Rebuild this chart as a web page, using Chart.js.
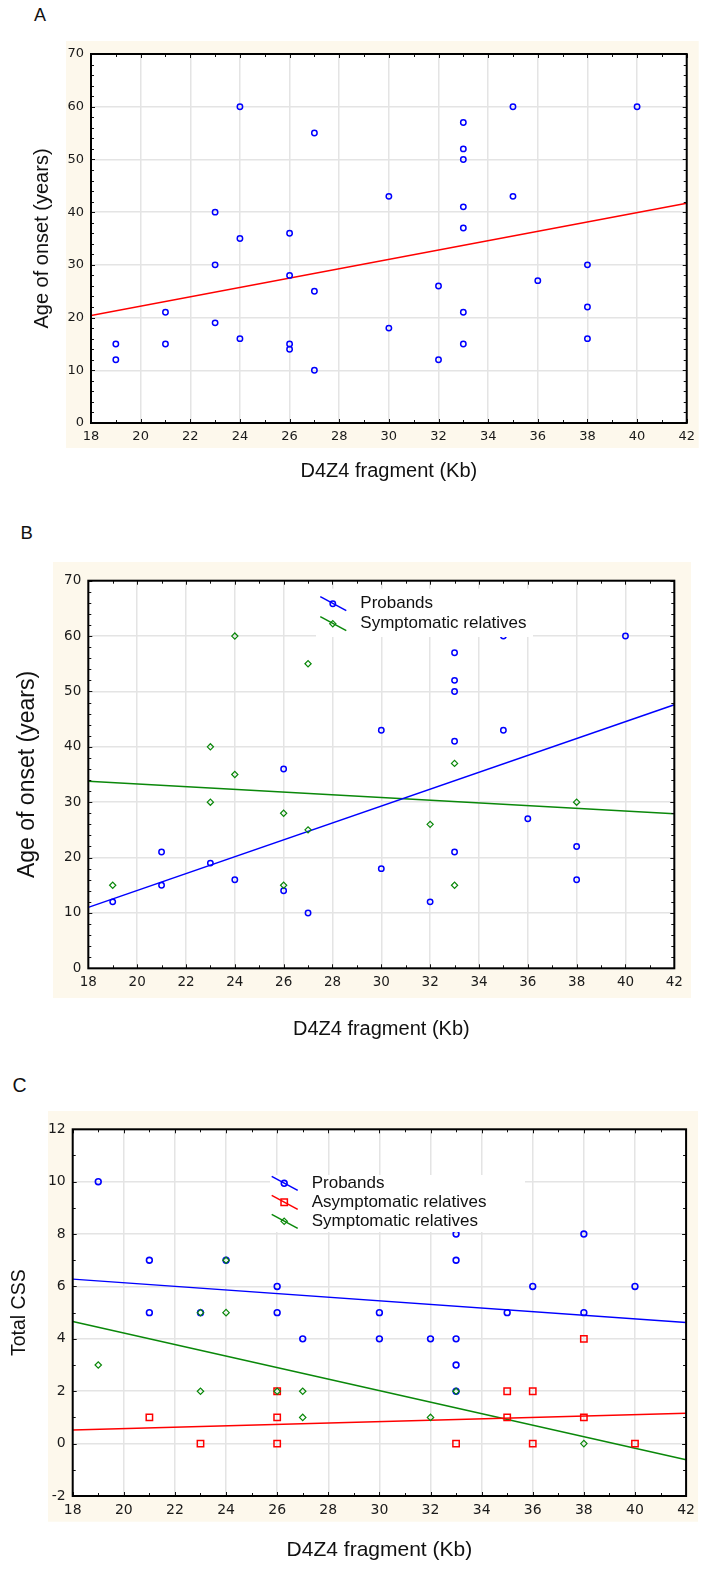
<!DOCTYPE html>
<html lang="en">
<head>
<meta charset="UTF-8">
<title>D4Z4 fragment size vs. age of onset and CSS</title>
<script src="https://cdn.jsdelivr.net/npm/chart.js"></script>
<style>
  body { margin: 0; background: #fff; }
  #page {
    position: relative;
    width: 701px;
    height: 1595px;
    overflow: hidden;
    font-family: 'Liberation Sans', Arial, sans-serif;
  }
  .panel { position: absolute; left: 0; width: 701px; }
  .tag { position: absolute; line-height: 1; color: #111; }
</style>
</head>
<body>
<div id="page">
  <div class="tag" style="left:34px; top:5.5px; font-size:18px;">A</div>
  <div class="panel" style="top:0; height:500px;"><canvas id="chartA"></canvas></div>

  <div class="tag" style="left:20.5px; top:523.5px; font-size:18.5px;">B</div>
  <div class="panel" style="top:500px; height:550px;"><canvas id="chartB"></canvas></div>

  <div class="tag" style="left:12.5px; top:1075.5px; font-size:19.5px;">C</div>
  <div class="panel" style="top:1050px; height:545px;"><canvas id="chartC"></canvas></div>
</div>

<script>
// ---- data ----
// A: all patients
const aFragment = [19, 19, 21, 21, 23, 23, 23, 24, 24, 24, 26, 26, 26, 26, 27, 27, 27,
                   30, 30, 32, 32, 33, 33, 33, 33, 33, 33, 33, 35, 35, 36, 38, 38, 38, 40];
const aOnset    = [15, 12, 21, 15, 40, 30, 19, 60, 35, 16, 36, 28, 15, 14, 55, 25, 10,
                   43, 18, 26, 12, 57, 52, 50, 41, 37, 21, 15, 60, 43, 27, 30, 22, 16, 60];

// B: probands and symptomatic relatives
const bProbandFragment = [19, 21, 21, 23, 24, 26, 26, 27, 30, 30, 32, 33, 33, 33, 33, 33, 35, 35, 36, 38, 38, 40];
const bProbandOnset    = [12, 21, 15, 19, 16, 36, 14, 10, 43, 18, 12, 57, 52, 50, 41, 21, 60, 43, 27, 22, 16, 60];
const bSymFragment = [19, 23, 23, 24, 24, 26, 26, 27, 27, 32, 33, 33, 38];
const bSymOnset    = [15, 40, 30, 60, 35, 28, 15, 55, 25, 26, 37, 15, 30];

// C: total CSS per group
const cProbandFragment = [19, 21, 21, 23, 24, 26, 26, 27, 30, 30, 32, 33, 33, 33, 33, 33, 35, 36, 38, 38, 40];
const cProbandCss      = [10, 7, 5, 5, 7, 6, 5, 4, 5, 4, 4, 8, 7, 4, 3, 2, 5, 6, 8, 5, 6];
const cAsymFragment = [21, 23, 26, 26, 26, 33, 35, 35, 36, 36, 38, 38, 40];
const cAsymCss      = [1, 0, 2, 1, 0, 0, 2, 1, 2, 0, 4, 1, 0];
const cSymFragment = [19, 23, 23, 24, 24, 26, 27, 27, 32, 33, 38];
const cSymCss      = [3, 5, 2, 7, 5, 2, 2, 1, 1, 2, 0];

// regression lines, value at each end of the x range
const fitX = [18, 42];
const aFit = [20.4, 41.7];
const bProbandFit = [11.0, 47.6];
const bSymFit = [33.8, 27.9];
const cProbandFit = [6.28, 4.62];
const cAsymFit = [0.52, 1.16];
const cSymFit = [4.66, -0.62];

const BLUE = '#0000ff';
const RED = '#ff0000';
const GREEN = '#0a880a';
const GRID = '#e4e4e4';
const CREAM = '#fdf8ec';

function pts(xs, ys) {
  return xs.map((x, i) => ({ x: x, y: ys[i] }));
}

function scatterSet(label, xs, ys, color, style, radius, width, order) {
  return {
    label: label,
    data: pts(xs, ys),
    pointStyle: style,
    pointRadius: radius,
    pointBorderWidth: width,
    borderColor: color,
    pointBorderColor: color,
    pointBackgroundColor: 'rgba(0,0,0,0)',
    order: order
  };
}

function fitSet(ys, color) {
  return {
    data: pts(fitX, ys),
    showLine: true,
    borderColor: color,
    borderWidth: 1.5,
    pointRadius: 0,
    order: 10
  };
}

// draws one legend marker by hand
function marker(ctx, style, x, y, r, color, width) {
  ctx.save();
  ctx.strokeStyle = color;
  ctx.lineWidth = width;
  ctx.beginPath();
  if (style === 'circle') {
    ctx.arc(x, y, r, 0, Math.PI * 2);
  } else if (style === 'rect') {
    const s = r * Math.SQRT1_2;
    ctx.rect(x - s, y - s, s * 2, s * 2);
  } else {
    ctx.moveTo(x, y - r);
    ctx.lineTo(x + r, y);
    ctx.lineTo(x, y + r);
    ctx.lineTo(x - r, y);
    ctx.closePath();
  }
  ctx.stroke();
  ctx.restore();
}

// cream surround, frame, inward ticks and the line/marker legend
const panelDecor = {
  id: 'panelDecor',
  beforeDraw(chart, args, opts) {
    const { ctx, chartArea: a } = chart;
    const p = opts.pad;
    ctx.save();
    ctx.fillStyle = CREAM;
    ctx.fillRect(a.left - p[0], a.top - p[1], a.width + p[0] + p[2], a.height + p[1] + p[3]);
    ctx.fillStyle = '#fff';
    ctx.fillRect(a.left, a.top, a.width, a.height);
    ctx.restore();
  },
  afterDatasetsDraw(chart, args, opts) {
    const { ctx, chartArea: a, scales } = chart;
    ctx.save();

    if (opts.legend) {
      const lg = opts.legend;
      const b = lg.box;
      ctx.fillStyle = '#fff';
      ctx.fillRect(a.left + b[0], a.top + b[1], b[2] - b[0], b[3] - b[1]);
      ctx.font = '17px "Liberation Sans", Arial, sans-serif';
      ctx.textBaseline = 'middle';
      lg.rows.forEach(row => {
        const ds = chart.data.datasets[row.ds];
        const x0 = a.left + lg.x0;
        const y = a.top + row.y;
        ctx.strokeStyle = ds.borderColor;
        ctx.lineWidth = 1.5;
        ctx.beginPath();
        ctx.moveTo(x0, y - 7);
        ctx.lineTo(x0 + 26, y + 7);
        ctx.stroke();
        marker(ctx, ds.pointStyle, x0 + 12.5, y, ds.pointRadius, ds.borderColor, ds.pointBorderWidth);
        ctx.fillStyle = '#111';
        ctx.fillText(ds.label, x0 + 40, y);
      });
    }

    ctx.strokeStyle = '#111';
    ctx.lineWidth = 1;
    const x = scales.x, y = scales.y;
    for (let v = x.min; v <= x.max; v += opts.minorX) {
      const px = Math.round(x.getPixelForValue(v)) + 0.5;
      const len = v % opts.majorX === 0 ? 4 : 3;
      ctx.beginPath();
      ctx.moveTo(px, a.bottom); ctx.lineTo(px, a.bottom - len);
      ctx.moveTo(px, a.top); ctx.lineTo(px, a.top + len);
      ctx.stroke();
    }
    for (let v = y.min; v <= y.max; v += opts.minorY) {
      const py = Math.round(y.getPixelForValue(v)) + 0.5;
      const len = v % opts.majorY === 0 ? 4 : 3;
      ctx.beginPath();
      ctx.moveTo(a.left, py); ctx.lineTo(a.left + len, py);
      ctx.moveTo(a.right, py); ctx.lineTo(a.right - len, py);
      ctx.stroke();
    }

    ctx.strokeStyle = '#000';
    ctx.lineWidth = 2;
    ctx.strokeRect(a.left, a.top, a.width, a.height);
    ctx.restore();
  }
};

function makeChart(id, cfg) {
  const tickFont = { family: '"DejaVu Sans", Verdana, sans-serif', size: cfg.tickSize };
  const titleFont = (size) => ({ family: '"Liberation Sans", Arial, sans-serif', size: size });
  return new Chart(document.getElementById(id), {
    type: 'scatter',
    data: { datasets: cfg.datasets },
    plugins: [panelDecor],
    options: {
      responsive: true,
      maintainAspectRatio: false,
      animation: false,
      layout: { padding: cfg.padding },
      plugins: {
        legend: { display: false },
        tooltip: { enabled: false },
        panelDecor: cfg.decor
      },
      scales: {
        x: {
          type: 'linear',
          min: 18,
          max: 42,
          ticks: { stepSize: 2, color: '#1a1a1a', font: tickFont, padding: cfg.xTickPad },
          grid: { color: GRID, lineWidth: 1.5, drawTicks: false },
          border: { display: false },
          title: { display: true, text: 'D4Z4 fragment (Kb)', color: '#111',
                   font: titleFont(cfg.xTitleSize), padding: 0 },
          afterFit(scale) { scale.height = cfg.xHeight; }
        },
        y: {
          type: 'linear',
          min: cfg.yMin,
          max: cfg.yMax,
          ticks: { stepSize: cfg.yStep, color: '#1a1a1a', font: tickFont, padding: 7 },
          grid: { color: GRID, lineWidth: 1.5, drawTicks: false },
          border: { display: false },
          title: { display: true, text: cfg.yTitle, color: '#111',
                   font: titleFont(cfg.yTitleSize), padding: 0 },
          afterFit(scale) { scale.width = cfg.yWidth; }
        }
      }
    }
  });
}

// A
makeChart('chartA', {
  datasets: [
    scatterSet('Patients', aFragment, aOnset, BLUE, 'circle', 2.7, 1.5, 1),
    fitSet(aFit, RED)
  ],
  padding: { left: 30, top: 54, right: 13, bottom: 17 },
  yWidth: 61, xHeight: 60, xTickPad: 6, tickSize: 13,
  xTitleSize: 20, yTitleSize: 20,
  yMin: 0, yMax: 70, yStep: 10, yTitle: 'Age of onset (years)',
  decor: { pad: [25, 13, 12, 25], minorX: 1, majorX: 2, minorY: 2, majorY: 10 }
});

// B
makeChart('chartB', {
  datasets: [
    scatterSet('Probands', bProbandFragment, bProbandOnset, BLUE, 'circle', 2.7, 1.5, 2),
    scatterSet('Symptomatic relatives', bSymFragment, bSymOnset, GREEN, 'rectRot', 3.1, 1.2, 1),
    fitSet(bProbandFit, BLUE),
    fitSet(bSymFit, GREEN)
  ],
  padding: { left: 13.7, top: 80.7, right: 26.7, bottom: 8.4 },
  yWidth: 74.6, xHeight: 73.3, xTickPad: 6, tickSize: 13.5,
  xTitleSize: 20, yTitleSize: 23,
  yMin: 0, yMax: 70, yStep: 10, yTitle: 'Age of onset (years)',
  decor: {
    pad: [35.3, 18.7, 16.7, 29.7], minorX: 1, majorX: 2, minorY: 2, majorY: 10,
    legend: { x0: 232, box: [227.7, 8, 444.7, 56.3], rows: [{ y: 23, ds: 0 }, { y: 43, ds: 1 }] }
  }
});

// C
makeChart('chartC', {
  datasets: [
    scatterSet('Probands', cProbandFragment, cProbandCss, BLUE, 'circle', 2.9, 1.6, 3),
    scatterSet('Asymptomatic relatives', cAsymFragment, cAsymCss, RED, 'rect', 4.5, 1.5, 2),
    scatterSet('Symptomatic relatives', cSymFragment, cSymCss, GREEN, 'rectRot', 3.2, 1.2, 1),
    fitSet(cProbandFit, BLUE),
    fitSet(cAsymFit, RED),
    fitSet(cSymFit, GREEN)
  ],
  padding: { left: 8.3, top: 79.3, right: 12, bottom: 32.4 },
  yWidth: 64.4, xHeight: 66.6, xTickPad: 6, tickSize: 14,
  xTitleSize: 21, yTitleSize: 19.5,
  yMin: -2, yMax: 12, yStep: 2, yTitle: 'Total CSS',
  decor: {
    pad: [24.7, 18.3, 12, 25.7], minorX: 1, majorX: 2, minorY: 1, majorY: 2,
    legend: { x0: 199, box: [197.3, 45.7, 452.3, 102.7],
              rows: [{ y: 54, ds: 0 }, { y: 73, ds: 1 }, { y: 92, ds: 2 }] }
  }
});
</script>
</body>
</html>
